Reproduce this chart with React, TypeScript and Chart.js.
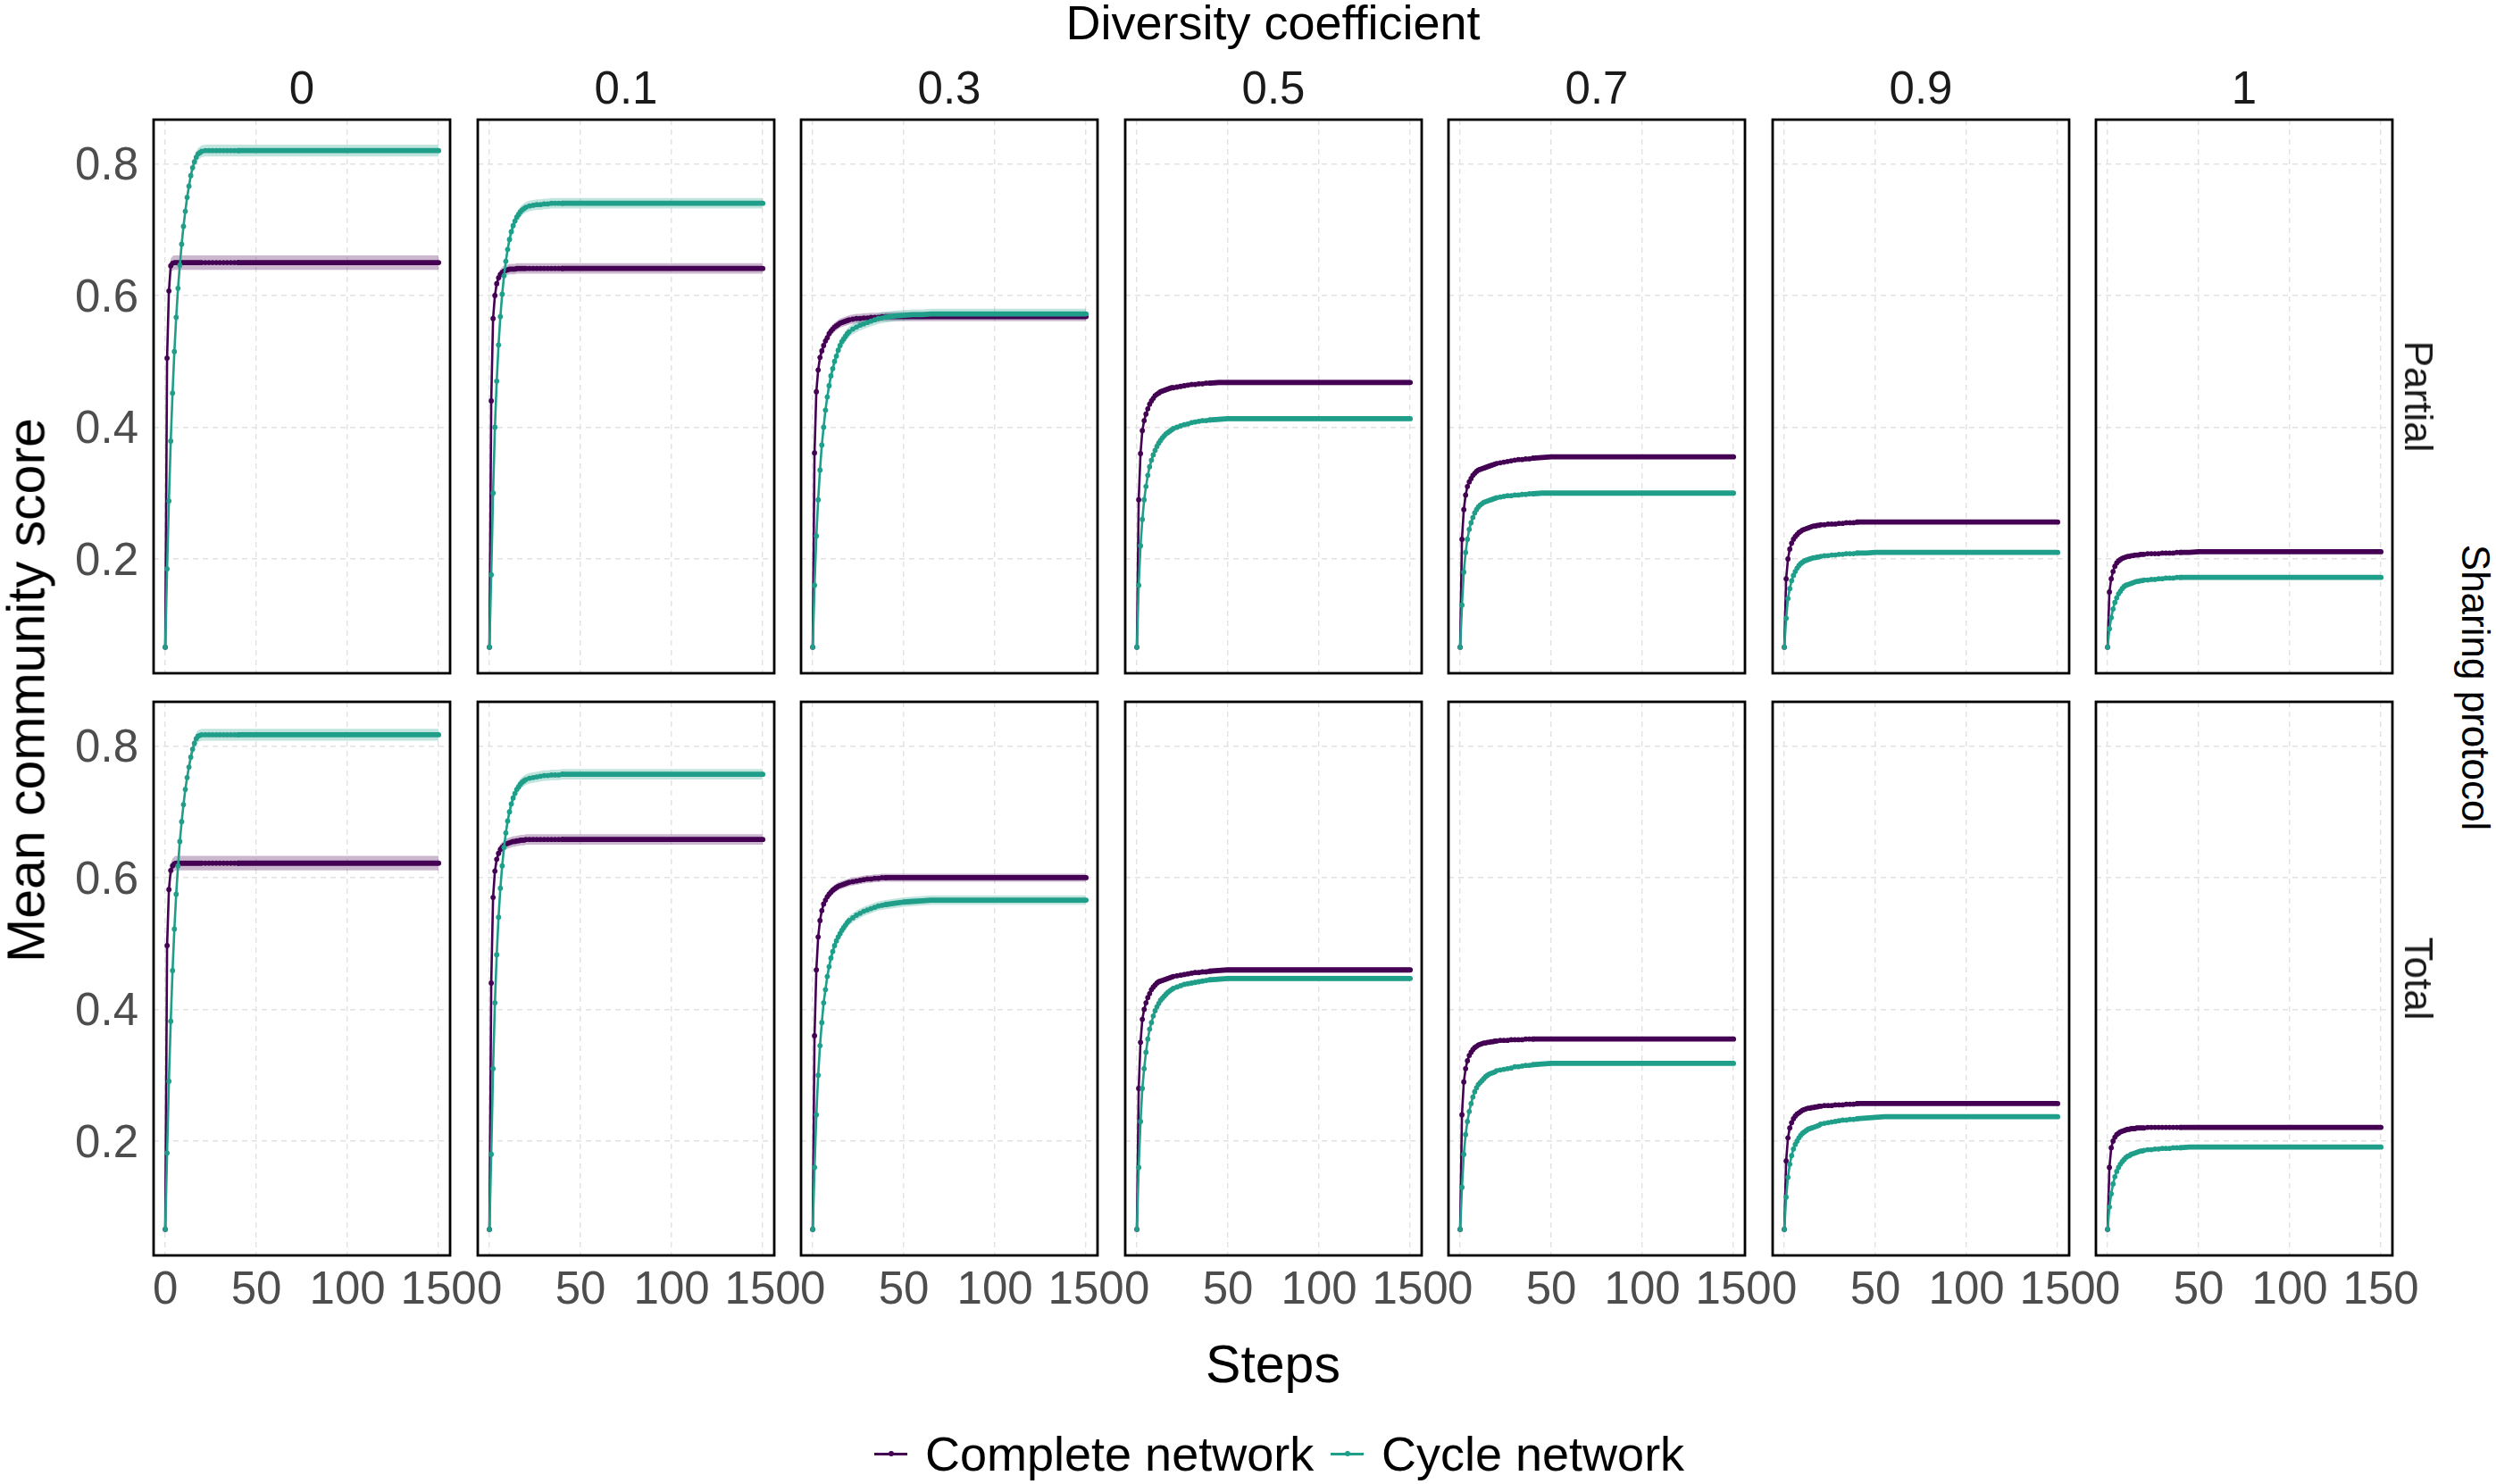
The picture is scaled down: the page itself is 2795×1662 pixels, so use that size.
import React, { useEffect, useRef } from "react";
import { Chart, registerables } from "chart.js";

Chart.register(...registerables);

// ---------- data ----------
const diversityLevels = ["0", "0.1", "0.3", "0.5", "0.7", "0.9", "1"];
const protocols = ["Partial", "Total"];
const seriesNames = ["Complete network", "Cycle network"];
const xTicks = [0, 50, 100, 150];
const yTicks = [0.2, 0.4, 0.6, 0.8];

const steps = [0,1,2,3,4,5,6,7,8,9,10,11,12,13,14,15,16,17,18,19,20,
  22,24,26,28,30,32,34,36,38,40,
  45,50,55,60,65,70,75,80,85,90,95,100,105,110,115,120,125,130,135,140,145,150];

// Partial sharing protocol
const partialComplete0 = [0.066,0.505,0.607,0.645,0.649,0.65,0.65,0.65,0.65,0.65,0.65,0.65,0.65,0.65,0.65,0.65,0.65,0.65,0.65,0.65,0.65,
  0.65,0.65,0.65,0.65,0.65,0.65,0.65,0.65,0.65,0.65,
  0.65,0.65,0.65,0.65,0.65,0.65,0.65,0.65,0.65,0.65,0.65,
  0.65,0.65,0.65,0.65,0.65,0.65,0.65,0.65,0.65,0.65,0.65];
const partialCycle0 = [0.066,0.185,0.288,0.379,0.452,0.515,0.567,0.611,0.646,0.678,0.705,0.728,0.749,0.766,0.782,0.794,0.803,0.81,0.815,0.817,0.819,
  0.82,0.82,0.82,0.82,0.82,0.82,0.82,0.82,0.82,0.82,
  0.82,0.82,0.82,0.82,0.82,0.82,0.82,0.82,0.82,0.82,0.82,
  0.82,0.82,0.82,0.82,0.82,0.82,0.82,0.82,0.82,0.82,0.82];
const partialComplete1 = [0.066,0.44,0.565,0.6,0.618,0.627,0.632,0.635,0.637,0.638,0.639,0.64,0.64,0.64,0.64,0.641,0.641,0.641,0.641,0.641,0.641,
  0.641,0.641,0.641,0.641,0.641,0.641,0.641,0.641,0.641,0.641,
  0.641,0.641,0.641,0.641,0.641,0.641,0.641,0.641,0.641,0.641,0.641,
  0.641,0.641,0.641,0.641,0.641,0.641,0.641,0.641,0.641,0.641,0.641];
const partialCycle1 = [0.066,0.176,0.3,0.4,0.47,0.525,0.568,0.602,0.63,0.652,0.67,0.685,0.697,0.706,0.713,0.719,0.723,0.727,0.73,0.732,0.734,
  0.736,0.737,0.738,0.738,0.739,0.739,0.74,0.74,0.74,0.74,
  0.74,0.74,0.74,0.74,0.74,0.74,0.74,0.74,0.74,0.74,0.74,
  0.74,0.74,0.74,0.74,0.74,0.74,0.74,0.74,0.74,0.74,0.74];
const partialComplete2 = [0.066,0.361,0.454,0.487,0.506,0.516,0.524,0.531,0.536,0.542,0.546,0.549,0.552,0.554,0.556,0.558,0.559,0.56,0.561,0.562,0.563,
  0.564,0.565,0.565,0.566,0.566,0.567,0.567,0.567,0.568,0.568,
  0.568,0.568,0.568,0.568,0.568,0.568,0.568,0.568,0.568,0.568,0.568,
  0.568,0.568,0.568,0.568,0.568,0.568,0.568,0.568,0.568,0.568,0.568];
const partialCycle2 = [0.066,0.16,0.235,0.29,0.335,0.373,0.4,0.426,0.446,0.463,0.478,0.489,0.5,0.508,0.517,0.524,0.53,0.534,0.538,0.542,0.545,
  0.549,0.552,0.555,0.557,0.559,0.561,0.563,0.565,0.566,0.567,
  0.569,0.57,0.571,0.571,0.572,0.572,0.572,0.572,0.572,0.572,0.572,
  0.572,0.572,0.572,0.572,0.572,0.572,0.572,0.572,0.572,0.572,0.572];
const partialComplete3 = [0.066,0.29,0.36,0.395,0.41,0.42,0.428,0.435,0.44,0.444,0.448,0.45,0.452,0.454,0.455,0.456,0.457,0.458,0.459,0.46,0.46,
  0.461,0.462,0.463,0.464,0.465,0.465,0.466,0.466,0.467,0.467,
  0.468,0.468,0.468,0.468,0.468,0.468,0.468,0.468,0.468,0.468,0.468,
  0.468,0.468,0.468,0.468,0.468,0.468,0.468,0.468,0.468,0.468,0.468];
const partialCycle3 = [0.066,0.16,0.22,0.26,0.29,0.31,0.327,0.34,0.35,0.358,0.365,0.371,0.376,0.38,0.384,0.387,0.39,0.392,0.394,0.396,0.398,
  0.4,0.402,0.404,0.405,0.407,0.408,0.409,0.41,0.41,0.411,
  0.412,0.413,0.413,0.413,0.413,0.413,0.413,0.413,0.413,0.413,0.413,
  0.413,0.413,0.413,0.413,0.413,0.413,0.413,0.413,0.413,0.413,0.413];
const partialComplete4 = [0.066,0.23,0.275,0.297,0.31,0.317,0.322,0.327,0.33,0.333,0.335,0.336,0.337,0.338,0.339,0.34,0.341,0.342,0.343,0.344,0.345,
  0.346,0.347,0.348,0.349,0.35,0.351,0.351,0.352,0.352,0.353,
  0.354,0.355,0.355,0.355,0.355,0.355,0.355,0.355,0.355,0.355,0.355,
  0.355,0.355,0.355,0.355,0.355,0.355,0.355,0.355,0.355,0.355,0.355];
const partialCycle4 = [0.066,0.13,0.18,0.21,0.23,0.245,0.255,0.263,0.27,0.275,0.279,0.282,0.284,0.286,0.287,0.288,0.289,0.29,0.291,0.292,0.293,
  0.294,0.295,0.296,0.296,0.297,0.297,0.298,0.298,0.299,0.299,
  0.3,0.3,0.3,0.3,0.3,0.3,0.3,0.3,0.3,0.3,0.3,
  0.3,0.3,0.3,0.3,0.3,0.3,0.3,0.3,0.3,0.3,0.3];
const partialComplete5 = [0.066,0.17,0.2,0.215,0.224,0.23,0.234,0.237,0.24,0.242,0.244,0.245,0.246,0.247,0.248,0.249,0.25,0.25,0.251,0.251,0.252,
  0.252,0.253,0.253,0.253,0.254,0.254,0.255,0.255,0.255,0.256,
  0.256,0.256,0.256,0.256,0.256,0.256,0.256,0.256,0.256,0.256,0.256,
  0.256,0.256,0.256,0.256,0.256,0.256,0.256,0.256,0.256,0.256,0.256];
const partialCycle5 = [0.066,0.11,0.14,0.155,0.167,0.175,0.181,0.186,0.19,0.193,0.195,0.197,0.198,0.199,0.2,0.201,0.202,0.202,0.203,0.203,0.204,
  0.205,0.205,0.206,0.206,0.207,0.207,0.208,0.208,0.208,0.209,
  0.209,0.21,0.21,0.21,0.21,0.21,0.21,0.21,0.21,0.21,0.21,
  0.21,0.21,0.21,0.21,0.21,0.21,0.21,0.21,0.21,0.21,0.21];
const partialComplete6 = [0.066,0.15,0.17,0.181,0.189,0.194,0.197,0.199,0.201,0.202,0.203,0.204,0.204,0.205,0.205,0.206,0.206,0.206,0.207,0.207,0.207,
  0.208,0.208,0.208,0.208,0.209,0.209,0.209,0.209,0.21,0.21,
  0.21,0.211,0.211,0.211,0.211,0.211,0.211,0.211,0.211,0.211,0.211,
  0.211,0.211,0.211,0.211,0.211,0.211,0.211,0.211,0.211,0.211,0.211];
const partialCycle6 = [0.066,0.094,0.111,0.124,0.134,0.141,0.147,0.151,0.155,0.158,0.16,0.161,0.162,0.163,0.164,0.165,0.166,0.166,0.167,0.167,0.168,
  0.168,0.169,0.169,0.17,0.17,0.171,0.171,0.171,0.172,0.172,
  0.172,0.172,0.172,0.172,0.172,0.172,0.172,0.172,0.172,0.172,0.172,
  0.172,0.172,0.172,0.172,0.172,0.172,0.172,0.172,0.172,0.172,0.172];

// Total sharing protocol
const totalComplete0 = [0.066,0.497,0.582,0.611,0.618,0.621,0.622,0.622,0.622,0.622,0.622,0.622,0.622,0.622,0.622,0.622,0.622,0.622,0.622,0.622,0.622,
  0.622,0.622,0.622,0.622,0.622,0.622,0.622,0.622,0.622,0.622,
  0.622,0.622,0.622,0.622,0.622,0.622,0.622,0.622,0.622,0.622,0.622,
  0.622,0.622,0.622,0.622,0.622,0.622,0.622,0.622,0.622,0.622,0.622];
const totalCycle0 = [0.066,0.182,0.291,0.382,0.459,0.522,0.575,0.618,0.655,0.685,0.711,0.734,0.752,0.768,0.783,0.795,0.804,0.811,0.815,0.816,0.817,
  0.817,0.817,0.817,0.817,0.817,0.817,0.817,0.817,0.817,0.817,
  0.817,0.817,0.817,0.817,0.817,0.817,0.817,0.817,0.817,0.817,0.817,
  0.817,0.817,0.817,0.817,0.817,0.817,0.817,0.817,0.817,0.817,0.817];
const totalComplete1 = [0.066,0.44,0.57,0.61,0.628,0.637,0.643,0.646,0.649,0.651,0.652,0.653,0.654,0.655,0.655,0.656,0.656,0.657,0.657,0.657,0.658,
  0.658,0.658,0.658,0.658,0.658,0.658,0.658,0.658,0.658,0.658,
  0.658,0.658,0.658,0.658,0.658,0.658,0.658,0.658,0.658,0.658,0.658,
  0.658,0.658,0.658,0.658,0.658,0.658,0.658,0.658,0.658,0.658,0.658];
const totalCycle1 = [0.066,0.18,0.31,0.41,0.483,0.54,0.584,0.618,0.646,0.668,0.686,0.7,0.712,0.721,0.728,0.734,0.738,0.742,0.745,0.747,0.749,
  0.751,0.752,0.753,0.754,0.755,0.755,0.756,0.756,0.756,0.757,
  0.757,0.757,0.757,0.757,0.757,0.757,0.757,0.757,0.757,0.757,0.757,
  0.757,0.757,0.757,0.757,0.757,0.757,0.757,0.757,0.757,0.757,0.757];
const totalComplete2 = [0.066,0.36,0.46,0.51,0.535,0.55,0.56,0.566,0.571,0.575,0.578,0.581,0.583,0.585,0.587,0.588,0.589,0.59,0.591,0.592,0.593,
  0.594,0.595,0.596,0.597,0.598,0.598,0.599,0.599,0.6,0.6,
  0.6,0.6,0.6,0.6,0.6,0.6,0.6,0.6,0.6,0.6,0.6,
  0.6,0.6,0.6,0.6,0.6,0.6,0.6,0.6,0.6,0.6,0.6];
const totalCycle2 = [0.066,0.16,0.24,0.3,0.345,0.38,0.41,0.43,0.45,0.465,0.478,0.488,0.497,0.504,0.51,0.515,0.52,0.524,0.528,0.532,0.535,
  0.539,0.543,0.546,0.549,0.551,0.553,0.555,0.557,0.558,0.559,
  0.561,0.563,0.564,0.565,0.566,0.566,0.566,0.566,0.566,0.566,0.566,
  0.566,0.566,0.566,0.566,0.566,0.566,0.566,0.566,0.566,0.566,0.566];
const totalComplete3 = [0.066,0.28,0.35,0.385,0.4,0.41,0.418,0.424,0.43,0.434,0.437,0.44,0.442,0.443,0.444,0.445,0.446,0.447,0.448,0.449,0.45,
  0.451,0.452,0.453,0.454,0.455,0.456,0.456,0.457,0.457,0.458,
  0.459,0.46,0.46,0.46,0.46,0.46,0.46,0.46,0.46,0.46,0.46,
  0.46,0.46,0.46,0.46,0.46,0.46,0.46,0.46,0.46,0.46,0.46];
const totalCycle3 = [0.066,0.16,0.23,0.28,0.31,0.335,0.355,0.37,0.38,0.39,0.398,0.404,0.409,0.414,0.417,0.42,0.423,0.426,0.428,0.43,0.432,
  0.434,0.436,0.438,0.439,0.44,0.441,0.442,0.443,0.444,0.445,
  0.446,0.447,0.447,0.447,0.447,0.447,0.447,0.447,0.447,0.447,0.447,
  0.447,0.447,0.447,0.447,0.447,0.447,0.447,0.447,0.447,0.447,0.447];
const totalComplete4 = [0.066,0.24,0.29,0.31,0.322,0.33,0.335,0.339,0.342,0.344,0.346,0.347,0.348,0.349,0.349,0.35,0.35,0.351,0.351,0.352,0.352,
  0.353,0.353,0.353,0.354,0.354,0.354,0.354,0.355,0.355,0.355,
  0.355,0.355,0.355,0.355,0.355,0.355,0.355,0.355,0.355,0.355,0.355,
  0.355,0.355,0.355,0.355,0.355,0.355,0.355,0.355,0.355,0.355,0.355];
const totalCycle4 = [0.066,0.13,0.18,0.21,0.23,0.245,0.257,0.267,0.275,0.281,0.286,0.289,0.292,0.295,0.298,0.3,0.302,0.303,0.304,0.305,0.307,
  0.308,0.309,0.31,0.311,0.313,0.313,0.314,0.315,0.315,0.316,
  0.317,0.318,0.318,0.318,0.318,0.318,0.318,0.318,0.318,0.318,0.318,
  0.318,0.318,0.318,0.318,0.318,0.318,0.318,0.318,0.318,0.318,0.318];
const totalComplete5 = [0.066,0.17,0.205,0.22,0.228,0.234,0.238,0.241,0.243,0.245,0.247,0.248,0.249,0.25,0.25,0.251,0.251,0.252,0.252,0.253,0.253,
  0.254,0.254,0.254,0.255,0.255,0.255,0.256,0.256,0.256,0.257,
  0.257,0.257,0.257,0.257,0.257,0.257,0.257,0.257,0.257,0.257,0.257,
  0.257,0.257,0.257,0.257,0.257,0.257,0.257,0.257,0.257,0.257,0.257];
const totalCycle5 = [0.066,0.115,0.145,0.165,0.178,0.188,0.195,0.2,0.205,0.209,0.212,0.214,0.216,0.218,0.219,0.22,0.221,0.222,0.223,0.224,0.226,
  0.227,0.228,0.229,0.23,0.231,0.232,0.232,0.233,0.233,0.234,
  0.235,0.236,0.237,0.237,0.237,0.237,0.237,0.237,0.237,0.237,0.237,
  0.237,0.237,0.237,0.237,0.237,0.237,0.237,0.237,0.237,0.237,0.237];
const totalComplete6 = [0.066,0.16,0.19,0.2,0.206,0.21,0.212,0.214,0.215,0.216,0.217,0.218,0.218,0.219,0.219,0.219,0.22,0.22,0.22,0.22,0.22,
  0.221,0.221,0.221,0.221,0.221,0.221,0.221,0.221,0.221,0.221,
  0.221,0.221,0.221,0.221,0.221,0.221,0.221,0.221,0.221,0.221,0.221,
  0.221,0.221,0.221,0.221,0.221,0.221,0.221,0.221,0.221,0.221,0.221];
const totalCycle6 = [0.066,0.1,0.12,0.135,0.146,0.154,0.16,0.165,0.169,0.172,0.175,0.177,0.178,0.18,0.181,0.182,0.183,0.184,0.185,0.185,0.186,
  0.187,0.187,0.188,0.188,0.189,0.189,0.189,0.19,0.19,0.19,
  0.191,0.191,0.191,0.191,0.191,0.191,0.191,0.191,0.191,0.191,0.191,
  0.191,0.191,0.191,0.191,0.191,0.191,0.191,0.191,0.191,0.191,0.191];

const partialComplete = [partialComplete0, partialComplete1, partialComplete2, partialComplete3, partialComplete4, partialComplete5, partialComplete6];
const partialCycle = [partialCycle0, partialCycle1, partialCycle2, partialCycle3, partialCycle4, partialCycle5, partialCycle6];
const totalComplete = [totalComplete0, totalComplete1, totalComplete2, totalComplete3, totalComplete4, totalComplete5, totalComplete6];
const totalCycle = [totalCycle0, totalCycle1, totalCycle2, totalCycle3, totalCycle4, totalCycle5, totalCycle6];

// half-width of the confidence ribbon, per diversity level
const ribbonPartialComplete = [0.011, 0.008, 0.007, 0.004, 0.003, 0.002, 0.002];
const ribbonPartialCycle = [0.009, 0.008, 0.008, 0.004, 0.003, 0.002, 0.002];
const ribbonTotalComplete = [0.011, 0.008, 0.006, 0.004, 0.003, 0.002, 0.002];
const ribbonTotalCycle = [0.009, 0.008, 0.007, 0.004, 0.003, 0.002, 0.002];

// ---------- style / layout ----------
const FONT = "'Liberation Sans', Arial, Helvetica, sans-serif";
const PURPLE = "#440154";
const TEAL = "#1f9e89";
const PURPLE_FILL = "rgba(68,1,84,0.28)";
const TEAL_FILL = "rgba(31,158,137,0.28)";
const GRID = "#e2e2e2";
const TICK_COLOR = "#4d4d4d";

const PANEL_LEFT0 = 172;
const PANEL_PITCH = 362.5;
const PANEL_W = 332;
const PANEL_H = 620;
const ROW_TOPS = [134, 786];
const ML = 150, MR = 60, MT = 10, MB = 110;
const X_MIN = -6.4, X_MAX = 156.3, Y_MIN = 0.0265, Y_MAX = 0.867;
const DENSE_LIMIT = 40;

const borderPlugin = {
  id: "panelBorder",
  afterDraw(chart: any) {
    const { ctx, chartArea: a } = chart;
    ctx.save();
    ctx.strokeStyle = "#000";
    ctx.lineWidth = 2.8;
    ctx.strokeRect(a.left, a.top, a.right - a.left, a.bottom - a.top);
    ctx.restore();
  },
};

function panelLeft(col: number) {
  return Math.round(PANEL_LEFT0 + col * PANEL_PITCH);
}

function Panel({ row, col }: { row: number; col: number }) {
  const ref = useRef<HTMLCanvasElement>(null);
  const w = ML + PANEL_W + MR;
  const h = MT + PANEL_H + MB;
  useEffect(() => {
    const complete = row === 0 ? partialComplete[col] : totalComplete[col];
    const cycle = row === 0 ? partialCycle[col] : totalCycle[col];
    const hwC = row === 0 ? ribbonPartialComplete[col] : ribbonTotalComplete[col];
    const hwY = row === 0 ? ribbonPartialCycle[col] : ribbonTotalCycle[col];
    const pts = (vals: number[], off: number) => steps.map((s, i) => ({ x: s, y: vals[i] + off }));
    const ribbon = (vals: number[], hw: number, fill: string, order: number) => [
      { data: pts(vals, -hw), borderWidth: 0, pointRadius: 0, fill: false, order },
      { data: pts(vals, hw), borderWidth: 0, pointRadius: 0, fill: "-1", backgroundColor: fill, order },
    ];
    const line = (vals: number[], color: string, order: number, label: string) => ({
      label,
      data: pts(vals, 0),
      borderColor: color,
      backgroundColor: color,
      borderWidth: 2.6,
      borderJoinStyle: "round",
      borderCapStyle: "round",
      pointRadius: (c: any) => (steps[c.dataIndex] <= DENSE_LIMIT ? 2.9 : 0),
      pointHoverRadius: 0,
      pointBorderWidth: 0,
      pointBackgroundColor: color,
      fill: false,
      tension: 0,
      order,
      segment: {
        borderWidth: (c: any) => (c.p0.parsed.x >= DENSE_LIMIT ? 5.8 : 2.6),
      },
    });
    const chart = new Chart(ref.current as HTMLCanvasElement, {
      type: "line",
      data: {
        datasets: [
          ...ribbon(complete, hwC, PURPLE_FILL, 3),
          ...ribbon(cycle, hwY, TEAL_FILL, 2),
          line(complete, PURPLE, 1, seriesNames[0]),
          line(cycle, TEAL, 0, seriesNames[1]),
        ] as any,
      },
      options: {
        animation: false,
        responsive: false,
        maintainAspectRatio: false,
        events: [],
        layout: { padding: { left: 0, right: MR, top: MT, bottom: 0 }, autoPadding: false } as any,
        plugins: { legend: { display: false }, tooltip: { enabled: false } },
        scales: {
          x: {
            type: "linear",
            min: X_MIN,
            max: X_MAX,
            afterBuildTicks: (s: any) => { s.ticks = xTicks.map((v) => ({ value: v })); },
            afterFit: (s: any) => {
              s.height = MB;
              s.paddingLeft = 0;
              s.paddingRight = 0;
              s.paddingTop = 0;
              s.paddingBottom = 0;
            },
            grid: { color: GRID, lineWidth: 1.4, drawTicks: false },
            border: { display: false, dash: [6, 5] },
            ticks: {
              display: row === 1,
              padding: 9,
              maxRotation: 0,
              autoSkip: false,
              color: TICK_COLOR,
              font: { family: FONT, size: 51 },
              callback: (v: any) => String(v),
            },
          },
          y: {
            type: "linear",
            min: Y_MIN,
            max: Y_MAX,
            afterBuildTicks: (s: any) => { s.ticks = yTicks.map((v) => ({ value: v })); },
            afterFit: (s: any) => {
              s.width = ML;
              s.paddingTop = 0;
              s.paddingBottom = 0;
              s.paddingLeft = 0;
              s.paddingRight = 0;
            },
            grid: { color: GRID, lineWidth: 1.4, drawTicks: false },
            border: { display: false, dash: [6, 5] },
            ticks: {
              display: col === 0,
              padding: 17,
              labelOffset: 3.5,
              color: TICK_COLOR,
              font: { family: FONT, size: 51 },
              callback: (v: any) => Number(v).toFixed(1),
            },
          },
        },
      } as any,
      plugins: [borderPlugin],
    });
    return () => chart.destroy();
  }, [row, col]);
  return (
    <canvas
      ref={ref}
      width={w}
      height={h}
      style={{ position: "absolute", left: panelLeft(col) - ML, top: ROW_TOPS[row] - MT, width: w, height: h }}
    />
  );
}

function Label({ x, y, size, rot = 0, color = "#000", align = "center", children }: any) {
  const tx = align === "left" ? "0" : "-50%";
  return (
    <div
      style={{
        position: "absolute",
        left: x,
        top: y,
        transform: `translate(${tx},-50%) rotate(${rot}deg)`,
        fontFamily: FONT,
        fontSize: size,
        lineHeight: 1,
        whiteSpace: "nowrap",
        color,
      }}
    >
      {children}
    </div>
  );
}

function LegendKey({ x, y, color }: { x: number; y: number; color: string }) {
  return (
    <>
      <div style={{ position: "absolute", left: x, top: y - 1.5, width: 37, height: 3, background: color }} />
      <div style={{ position: "absolute", left: x + 18.5 - 3, top: y - 3, width: 6, height: 6, borderRadius: "50%", background: color }} />
    </>
  );
}

export default function App() {
  const centerX = (PANEL_LEFT0 + panelLeft(6) + PANEL_W) / 2;
  return (
    <div style={{ position: "absolute", left: 0, top: 0, width: 2795, height: 1662, background: "#fff", overflow: "hidden" }}>
      {protocols.map((p, r) => diversityLevels.map((d, c) => <Panel key={p + d} row={r} col={c} />))}
      <Label x={centerX} y={25} size={54}>Diversity coefficient</Label>
      {diversityLevels.map((d, c) => (
        <Label key={d} x={panelLeft(c) + PANEL_W / 2} y={98} size={51} color="#1a1a1a">{d}</Label>
      ))}
      {protocols.map((p, r) => (
        <Label key={p} x={2708} y={ROW_TOPS[r] + PANEL_H / 2} size={44} rot={90} color="#1a1a1a">{p}</Label>
      ))}
      <Label x={2772} y={770} size={44} rot={90}>Sharing protocol</Label>
      <Label x={30} y={773} size={59} rot={-90}>Mean community score</Label>
      <Label x={centerX} y={1528} size={59}>Steps</Label>
      <LegendKey x={979} y={1628} color={PURPLE} />
      <Label x={1036} y={1628} size={54} align="left">{seriesNames[0]}</Label>
      <LegendKey x={1490} y={1628} color={TEAL} />
      <Label x={1547} y={1628} size={54} align="left">{seriesNames[1]}</Label>
    </div>
  );
}
